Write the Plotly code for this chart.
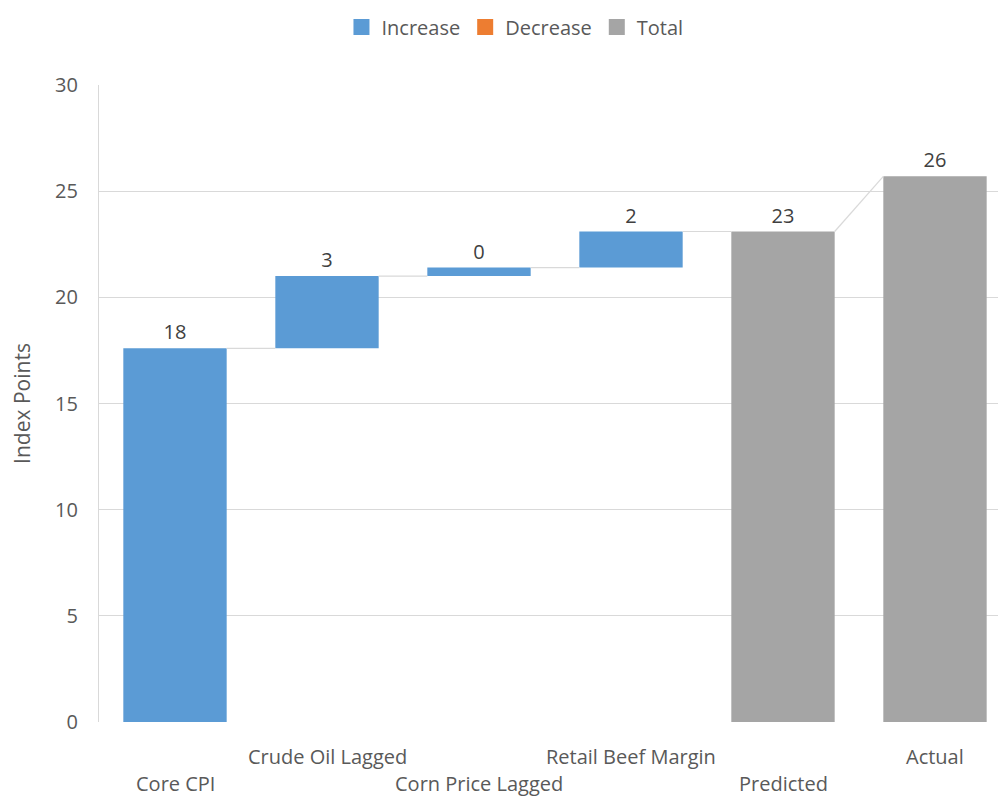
import plotly.graph_objects as go

# Contributions to the index, in index points
categories = ["Core CPI", "Crude Oil Lagged", "Corn Price Lagged",
              "Retail Beef Margin", "Predicted", "Actual"]
values = [17.6, 3.4, 0.4, 1.7, 0, 25.7]
measures = ["relative", "relative", "relative", "relative", "total", "absolute"]
y_ticks = [0, 5, 10, 15, 20, 25, 30]

BLUE = "#5B9BD5"
ORANGE = "#ED7D31"
GRAY = "#A5A5A5"
GRID = "#D9D9D9"
FONT = "Open Sans"
FS = 20
BAR_W = 0.68

# bar ends (running total, reset by totals/absolutes)
ends = []
run = 0.0
for v, m in zip(values, measures):
    if m == "relative":
        run += v
    elif m == "absolute":
        run = v
    ends.append(run)

labels = []
for v, m, e in zip(values, measures, ends):
    labels.append(f"{(v if m == 'relative' else e):.0f}")

x = list(range(len(categories)))

fig = go.Figure()
fig.add_trace(go.Waterfall(
    x=x, y=values, measure=measures,
    width=[BAR_W] * len(x),
    text=labels, textposition="outside",
    textfont=dict(family=FONT, size=FS, color="#404040"),
    increasing=dict(marker=dict(color=BLUE)),
    decreasing=dict(marker=dict(color=ORANGE)),
    totals=dict(marker=dict(color=GRAY)),
    connector=dict(visible=False),
    showlegend=False, hoverinfo="skip", cliponaxis=False,
))

# connector lines between neighbouring bars
cx, cy = [], []
for i in range(len(x) - 1):
    y0 = ends[i]
    y1 = values[i + 1] if measures[i + 1] == "absolute" else ends[i]
    cx += [x[i] + BAR_W / 2, x[i + 1] - BAR_W / 2, None]
    cy += [y0, y1, None]
fig.add_trace(go.Scatter(x=cx, y=cy, mode="lines",
                         line=dict(color=GRID, width=1.2),
                         showlegend=False, hoverinfo="skip"))

# legend entries
for name, col in [("Increase", BLUE), ("Decrease", ORANGE), ("Total", GRAY)]:
    fig.add_trace(go.Scatter(x=[None], y=[None], mode="markers", name=name,
                             marker=dict(symbol="square", size=21, color=col)))

# staggered category labels
for i, c in enumerate(categories):
    fig.add_annotation(x=x[i], y=0, xref="x", yref="paper",
                       yanchor="middle", xanchor="center",
                       yshift=-34 if i % 2 else -61, showarrow=False,
                       text=c, font=dict(family=FONT, size=FS, color="#595959"))

fig.update_layout(
    width=998, height=797,
    margin=dict(l=99, r=0, t=85, b=75),
    paper_bgcolor="white", plot_bgcolor="white",
    font=dict(family=FONT, size=FS, color="#595959"),
    legend=dict(orientation="h", xref="container", x=0.516, xanchor="center",
                yref="container", y=0.966, yanchor="middle",
                font=dict(family=FONT, size=FS, color="#595959"),
                itemsizing="trace"),
    xaxis=dict(range=[-0.5, -0.5 + 899 / 152], tickvals=x,
               showticklabels=False, showgrid=False, zeroline=False,
               showline=False, fixedrange=True),
    yaxis=dict(range=[0, 30], tickvals=y_ticks, showgrid=True,
               gridcolor=GRID, gridwidth=1.2, zeroline=False,
               showline=True, linecolor=GRID, linewidth=1.2,
               ticks="", ticklabelstandoff=16,
               tickfont=dict(family=FONT, size=FS, color="#595959"),
               title=dict(text="Index Points", standoff=18,
                          font=dict(family=FONT, size=FS + 1, color="#595959"))),
)

fig.write_html("out.html")
